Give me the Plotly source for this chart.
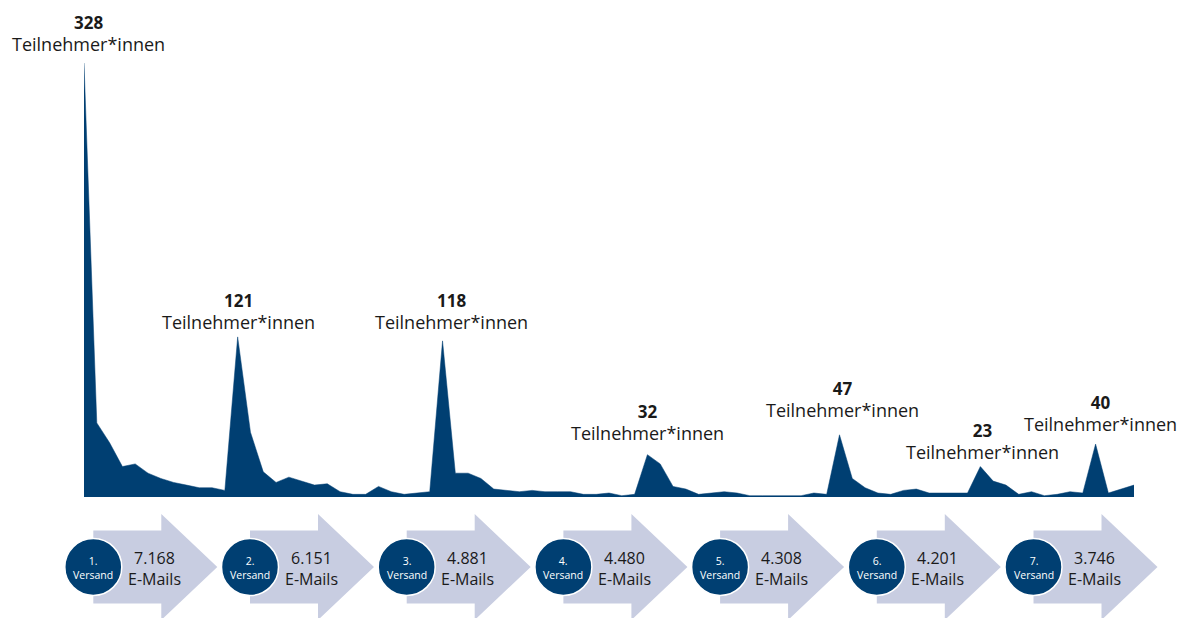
import plotly.graph_objects as go

# ---- data ----
participants = [328, 56, 41, 23, 25, 18, 14, 11, 9, 7, 7, 5,
                121, 49, 19, 11, 15, 12, 9, 10, 4, 2, 2, 8, 4, 2, 3, 4,
                118, 18, 18, 14, 6, 5, 4, 5, 4, 4, 4, 2, 2, 3, 1, 2,
                32, 25, 8, 6, 2, 3, 4, 3, 1, 1, 1, 1, 1, 3, 2,
                47, 14, 7, 3, 2, 5, 6, 3, 3, 3, 3,
                23, 12, 9, 2, 4, 1, 2, 4, 3,
                40, 3, 6, 9]
days = list(range(len(participants)))
peak_days = [0, 12, 28, 44, 59, 70, 79]
versand_labels = ["1.", "2.", "3.", "4.", "5.", "6.", "7."]
email_counts = ["7.168", "6.151", "4.881", "4.480", "4.308", "4.201", "3.746"]
unit_label = "Teilnehmer*innen"

W, H = 1186, 618
BLUE = "rgb(0,63,114)"
ARROW = "rgb(200,205,225)"
FONT = "Open Sans"
TXT = "#1a1a1a"


def px(x):
    return x / W


def py(y):
    return 1 - y / H


def label(fig, x, y, text, size, color=TXT):
    fig.add_annotation(x=px(x), y=py(y), xref="paper", yref="paper",
                       xanchor="center", yanchor="middle",
                       text=text, showarrow=False, borderpad=0,
                       font=dict(family=FONT, size=size, color=color))


fig = go.Figure()
fig.add_trace(go.Scatter(
    x=days, y=participants, mode="lines", fill="tozeroy",
    line=dict(color=BLUE, width=0.5), fillcolor=BLUE,
    hoverinfo="skip", showlegend=False))

base_px = 497
top_px = 63
fig.update_layout(
    width=W, height=H,
    margin=dict(l=0, r=0, t=0, b=0),
    paper_bgcolor="white", plot_bgcolor="rgba(0,0,0,0)",
    xaxis=dict(domain=[px(84), px(1134)], range=[0, len(participants) - 1],
               visible=False, fixedrange=True),
    yaxis=dict(domain=[py(base_px), py(top_px)],
               range=[0, max(participants)], visible=False, fixedrange=True),
    showlegend=False,
)

# peak labels (pixel positions of label centres)
label_x = [88, 238, 451, 647, 842, 982, 1100]
num_y = [20, 298, 298, 410, 387, 429, 400]
txt_y = [45, 322, 322, 433, 410, 452, 424]
for i, d in enumerate(peak_days):
    label(fig, label_x[i], (num_y[i] + txt_y[i]) / 2 + 1,
          "<b>%d</b><br><span style='font-size:18px'>%s</span>"
          % (participants[d], unit_label), 17)

# process arrows with circles
cy = 567
step = 156.7
for i in range(len(versand_labels)):
    cx = 93.3 + step * i
    x_body0 = cx
    x_head = cx + 68
    x_tip = cx + 124
    bh = 36.5
    hh = 53
    pts = [(x_body0, cy - bh), (x_head, cy - bh), (x_head, cy - hh),
           (x_tip, cy), (x_head, cy + hh), (x_head, cy + bh),
           (x_body0, cy + bh)]
    path = "M " + " L ".join(f"{px(a):.5f},{py(b):.5f}" for a, b in pts) + " Z"
    fig.add_shape(type="path", path=path, xref="paper", yref="paper",
                  fillcolor=ARROW, line=dict(width=0), layer="above")
    r = 28.5
    fig.add_shape(type="circle", xref="paper", yref="paper",
                  x0=px(cx - r), x1=px(cx + r), y0=py(cy + r), y1=py(cy - r),
                  fillcolor=BLUE, line=dict(color="white", width=1.5),
                  layer="above")
    label(fig, cx, cy + 1, "%s<br>Versand" % versand_labels[i], 10.5, "white")
    label(fig, cx + 61, cy + 1, "%s<br>E-Mails" % email_counts[i], 16)

fig.write_html("out.html")
